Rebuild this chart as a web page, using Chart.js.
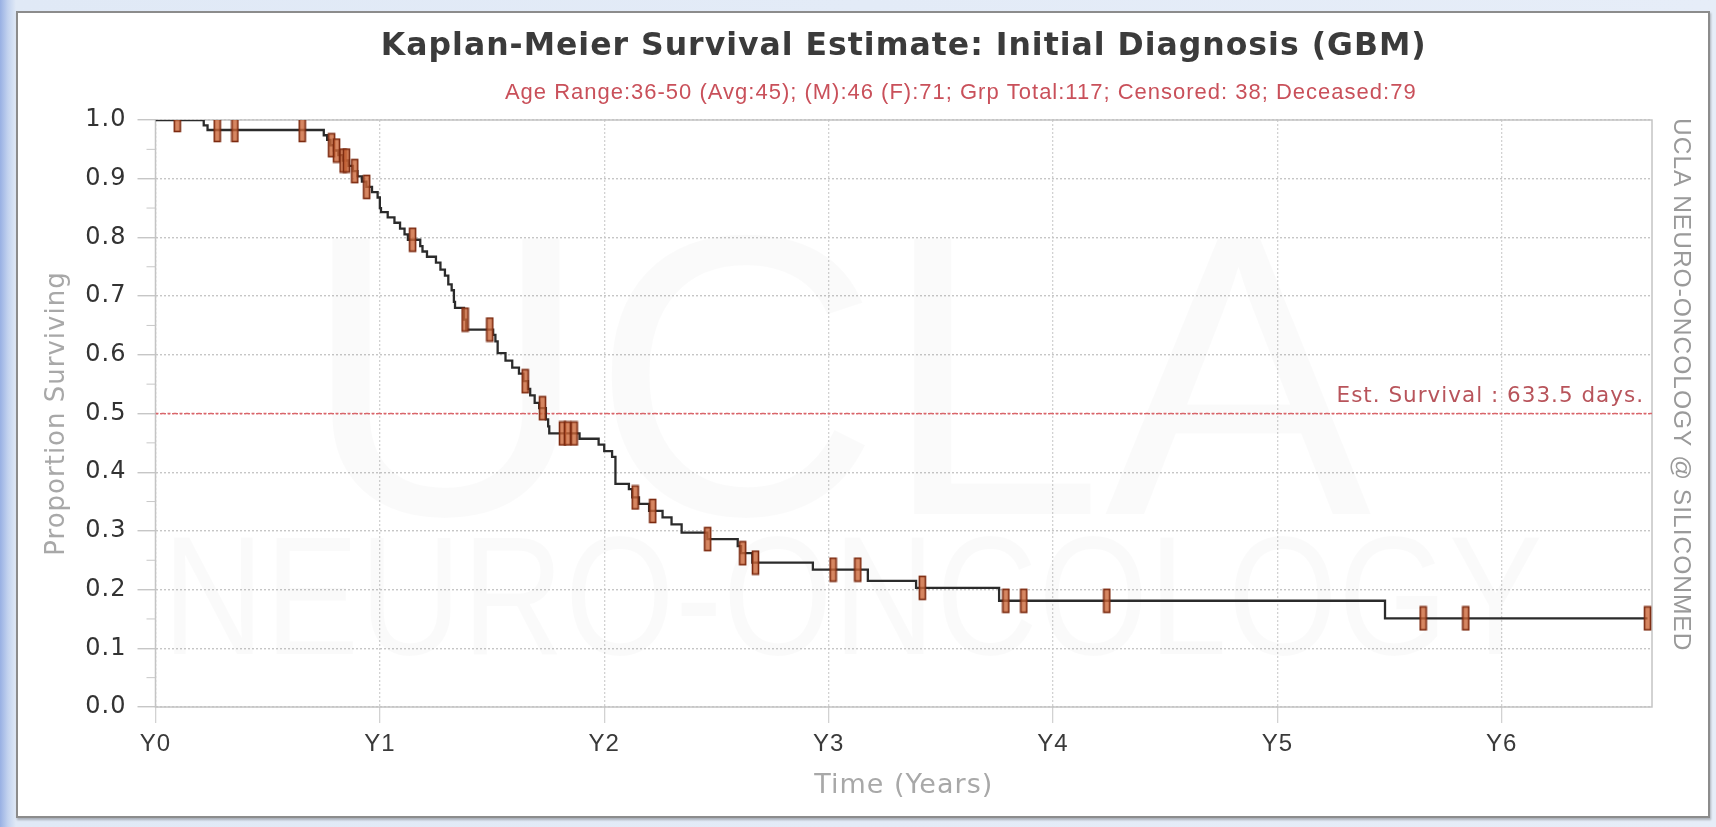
<!DOCTYPE html>
<html>
<head>
<meta charset="utf-8">
<title>Kaplan-Meier Survival Estimate</title>
<script src="https://cdn.jsdelivr.net/npm/chart.js@4.4.1/dist/chart.umd.min.js"></script>
<style>
  html, body { margin: 0; padding: 0; }
  body {
    width: 1716px; height: 827px; overflow: hidden; position: relative;
    background: linear-gradient(to right, #98b0e3 0px, #c3d3ef 8px, #e0e9f6 16px, #e6edf8 100%);
  }
  #panel {
    position: absolute; left: 16px; top: 11px; width: 1690px; height: 803px;
    border: 2px solid #8c8c8c; background: #fff;
    box-shadow: 1px 2px 2px rgba(0, 0, 0, 0.25);
  }
</style>
</head>
<body>
<div id="panel"><canvas id="km"></canvas></div>
<script>
// Kaplan-Meier steps: time in years, proportion surviving after each event
const survTimes = [0, 0.215, 0.232, 0.75, 0.765, 0.78, 0.795, 0.815, 0.835, 0.86,
    0.88, 0.9, 0.92, 0.94, 0.965, 0.99, 1.0, 1.005, 1.035, 1.065,
    1.09, 1.11, 1.125, 1.18, 1.19, 1.21, 1.25, 1.27, 1.29, 1.305,
    1.32, 1.33, 1.335, 1.375, 1.385, 1.505, 1.515, 1.525, 1.56, 1.59,
    1.62, 1.64, 1.66, 1.67, 1.69, 1.71, 1.74, 1.75, 1.755, 1.89,
    1.975, 2.0, 2.035, 2.05, 2.11, 2.125, 2.155, 2.2, 2.26, 2.3,
    2.345, 2.46, 2.595, 2.61, 2.66, 2.93, 3.175, 3.39, 3.76, 5.48, 6.65];
const survValues = [1.0, 0.991, 0.983, 0.974, 0.966, 0.957, 0.948, 0.94, 0.931, 0.922,
    0.913, 0.904, 0.895, 0.886, 0.877, 0.868, 0.85, 0.843, 0.834, 0.825,
    0.815, 0.805, 0.796, 0.785, 0.776, 0.767, 0.757, 0.745, 0.735, 0.72,
    0.71, 0.69, 0.68, 0.66, 0.643, 0.634, 0.623, 0.603, 0.59, 0.578,
    0.568, 0.555, 0.542, 0.531, 0.518, 0.509, 0.49, 0.478, 0.466, 0.457,
    0.447, 0.436, 0.426, 0.38, 0.371, 0.357, 0.346, 0.334, 0.323, 0.311,
    0.297, 0.286, 0.274, 0.262, 0.246, 0.234, 0.215, 0.203, 0.181, 0.151, 0.151];

// censored patients (tick marks on the curve)
const censorTimes = [0.097, 0.275, 0.354, 0.654, 0.785, 0.807, 0.836, 0.851, 0.888, 0.941,
    1.146, 1.38, 1.49, 1.648, 1.725, 1.814, 1.836, 1.866, 2.138, 2.216,
    2.461, 2.617, 2.674, 3.02, 3.13, 3.418, 3.79, 3.87, 4.24, 5.65, 5.84, 6.65];
const censorValues = [1.0, 0.983, 0.983, 0.983, 0.957, 0.948, 0.931, 0.931, 0.913, 0.886,
    0.796, 0.66, 0.643, 0.555, 0.509, 0.466, 0.466, 0.466, 0.357, 0.334,
    0.286, 0.262, 0.246, 0.234, 0.234, 0.203, 0.181, 0.181, 0.181, 0.151, 0.151, 0.151];

const yearLabels = ['Y0', 'Y1', 'Y2', 'Y3', 'Y4', 'Y5', 'Y6'];
const xMax = 6.67;
const medianLevel = 0.5;
const medianDays = 633.5;

const titleText = 'Kaplan-Meier Survival Estimate: Initial Diagnosis (GBM)';
const subtitleText = 'Age Range:36-50 (Avg:45); (M):46 (F):71; Grp Total:117; Censored: 38; Deceased:79';
const sideText = 'UCLA NEURO-ONCOLOGY @ SILICONMED';

// small orange box used for censor marks
function censorMark() {
    const c = document.createElement('canvas');
    c.width = 9;
    c.height = 26;
    const g = c.getContext('2d');
    g.fillStyle = 'rgba(204, 104, 58, 0.8)';
    g.fillRect(1.5, 1.5, 6, 23);
    g.strokeStyle = '#7c2a10';
    g.lineWidth = 1.6;
    g.strokeRect(1.5, 1.5, 6, 23);
    return c;
}

const survPoints = survTimes.map((t, i) => ({ x: t, y: survValues[i] }));
const censorPoints = censorTimes.map((t, i) => ({ x: t, y: censorValues[i] }));

// the original renderer spaces its letters a little wider
const spacing = {
    id: 'spacing',
    beforeDraw(chart) {
        chart.ctx.letterSpacing = '1px';
    },
    afterDraw(chart) {
        chart.ctx.letterSpacing = '0px';
    }
};

// faint watermark, plot frame and minor y ticks
const backdrop = {
    id: 'backdrop',
    beforeDatasetsDraw(chart) {
        const { ctx, chartArea: a, scales: { y } } = chart;
        ctx.save();
        ctx.fillStyle = 'rgba(0, 0, 0, 0.02)';
        ctx.textAlign = 'center';
        ctx.textBaseline = 'alphabetic';
        ctx.font = '400px "Liberation Sans", Arial, sans-serif';
        ctx.fillText('UCLA', 819, 501, 1083);
        ctx.font = '168px "Liberation Sans", Arial, sans-serif';
        ctx.fillText('NEURO-ONCOLOGY', 835, 641, 1381);

        ctx.strokeStyle = '#c4c4c4';
        ctx.lineWidth = 1.5;
        ctx.strokeRect(a.left, a.top, a.right - a.left, a.bottom - a.top);

        ctx.strokeStyle = '#c8c8c8';
        ctx.lineWidth = 1;
        const ticks = y.ticks;
        for (let i = 0; i < ticks.length - 1; i++) {
            const py = y.getPixelForValue((ticks[i].value + ticks[i + 1].value) / 2);
            ctx.beginPath();
            ctx.moveTo(a.left - 9, py);
            ctx.lineTo(a.left, py);
            ctx.stroke();
        }
        ctx.restore();
    }
};

// group summary line, median label and the vertical credit text on the right
const annotations = {
    id: 'annotations',
    afterDraw(chart) {
        const { ctx, chartArea: a, scales: { y } } = chart;
        ctx.save();
        ctx.letterSpacing = '1px';

        ctx.fillStyle = '#c9505a';
        ctx.font = '22px "Liberation Sans", Arial, sans-serif';
        ctx.textAlign = 'center';
        ctx.textBaseline = 'middle';
        ctx.fillText(subtitleText, (a.left + a.right) / 2 + 57, a.top - 27);

        ctx.fillStyle = '#b8545b';
        ctx.font = '21.5px "DejaVu Sans", Verdana, sans-serif';
        ctx.textAlign = 'right';
        ctx.textBaseline = 'alphabetic';
        ctx.fillText('Est. Survival : ' + medianDays.toFixed(1) + ' days.', a.right - 8, y.getPixelForValue(medianLevel) - 12);

        ctx.translate(chart.width - 27, a.top - 2);
        ctx.rotate(Math.PI / 2);
        ctx.fillStyle = '#9a9a9a';
        ctx.font = '24.5px "Liberation Sans", Arial, sans-serif';
        ctx.textAlign = 'left';
        ctx.textBaseline = 'middle';
        ctx.fillText(sideText, 0, 0);
        ctx.restore();
    }
};

const ctx = document.getElementById('km').getContext('2d');
new Chart(ctx, {
    type: 'line',
    data: {
        datasets: [
            {
                label: 'Censored',
                data: censorPoints,
                showLine: false,
                pointStyle: censorMark(),
                pointRadius: 5,
                order: 0
            },
            {
                label: 'Survival',
                data: survPoints,
                stepped: true,
                borderColor: '#2b2b2b',
                borderWidth: 2.3,
                pointRadius: 0,
                fill: false,
                order: 1
            },
            {
                label: 'Median',
                data: [{ x: 0, y: medianLevel }, { x: xMax, y: medianLevel }],
                borderColor: '#d9666b',
                borderWidth: 1.5,
                borderDash: [3, 3],
                pointRadius: 0,
                order: 2
            }
        ]
    },
    options: {
        responsive: true,
        maintainAspectRatio: false,
        animation: false,
        layout: { padding: { left: 0, right: 56, top: 0, bottom: 0 } },
        plugins: {
            legend: { display: false },
            tooltip: { enabled: false },
            title: {
                display: true,
                text: titleText,
                fullSize: false,
                color: '#3b3b3b',
                font: { family: '"DejaVu Sans", Verdana, sans-serif', size: 31.5, weight: 'bold' },
                padding: { top: 14.5, bottom: 54.7 }
            }
        },
        scales: {
            x: {
                type: 'linear',
                min: 0,
                max: xMax,
                afterFit: (scale) => { scale.height = 109; },
                ticks: {
                    stepSize: 1,
                    includeBounds: false,
                    autoSkip: false,
                    maxRotation: 0,
                    padding: 6.6,
                    color: '#3a3a3a',
                    font: { family: '"Liberation Sans Narrow", "Liberation Sans", Arial, sans-serif', size: 24 },
                    callback: (v) => yearLabels[v] ?? ''
                },
                grid: {
                    color: '#d2d2d2',
                    lineWidth: 1.3,
                    tickLength: 16,
                    tickColor: '#d2d2d2'
                },
                border: { display: false, dash: [2, 2] },
                title: {
                    display: true,
                    text: 'Time (Years)',
                    color: '#a8a8a8',
                    font: { family: '"DejaVu Sans", Verdana, sans-serif', size: 27 },
                    padding: { top: 0, bottom: 14 }
                }
            },
            y: {
                min: 0,
                max: 1,
                afterFit: (scale) => { scale.width = 137.5; },
                ticks: {
                    stepSize: 0.1,
                    padding: 11,
                    color: '#333',
                    font: { family: '"DejaVu Sans", Verdana, sans-serif', size: 24 },
                    callback: (v) => v.toFixed(1)
                },
                grid: {
                    color: (c) => (c.tick && Math.abs(c.tick.value - medianLevel) < 1e-6) ? '#d9666b' : '#c6c6c6',
                    lineWidth: 1.4,
                    tickLength: 18,
                    tickColor: '#c6c6c6'
                },
                border: { display: false, dash: [2, 2] },
                title: {
                    display: true,
                    text: 'Proportion Surviving',
                    color: '#a8a8a8',
                    font: { family: '"DejaVu Sans", Verdana, sans-serif', size: 26 },
                    padding: { top: 24, bottom: 0 }
                }
            }
        }
    },
    plugins: [spacing, backdrop, annotations]
});
</script>
</body>
</html>
